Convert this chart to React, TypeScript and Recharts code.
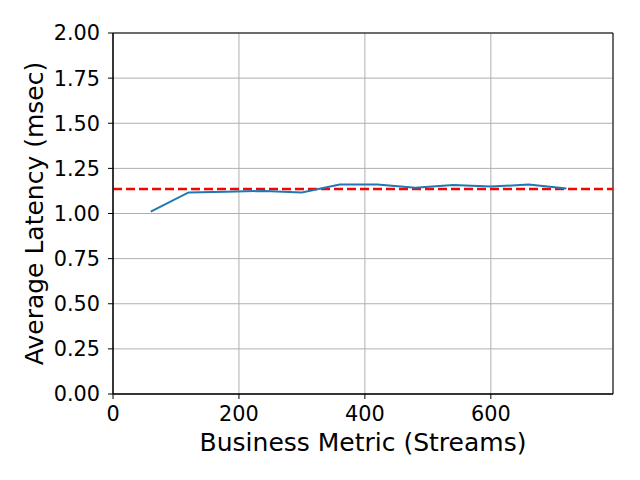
import React from 'react';
import {
  LineChart,
  Line,
  XAxis,
  YAxis,
  CartesianGrid,
  ReferenceLine,
  ReferenceArea,
} from 'recharts';

// Business metric (streams) sampled every 60
const streams = [60, 120, 180, 240, 300, 360, 420, 480, 540, 600, 660, 720];
// Average latency in msec at each sample
const latency = [1.01, 1.117, 1.121, 1.125, 1.117, 1.16, 1.16, 1.143, 1.158, 1.149, 1.16, 1.138];
// Dashed reference (overall average)
const avgLatency = 1.136;

const xTicks = [0, 200, 400, 600];
const yTicks = [0, 0.25, 0.5, 0.75, 1.0, 1.25, 1.5, 1.75, 2.0];
const xMax = 794;

const data = streams.map((s, i) => ({ streams: s, latency: latency[i] }));

const font = 'DejaVu Sans, sans-serif';

const App: React.FC = () => {
  return (
    <div style={{ position: 'absolute', left: 0, top: 0, width: 640, height: 480, background: '#fff', fontFamily: font }}>
      <LineChart width={640} height={480} data={data} margin={{ top: 33, right: 27, left: 0, bottom: 0 }}>
        <CartesianGrid stroke="#b0b0b0" strokeWidth={1} />
        <XAxis
          dataKey="streams"
          type="number"
          domain={[0, xMax]}
          ticks={xTicks}
          allowDataOverflow
          height={86}
          stroke="#000"
          tickSize={5}
          tickMargin={7}
          tick={{ fill: '#000', fontSize: 20.8, fontFamily: font }}
          label={{ value: 'Business Metric (Streams)', position: 'insideBottom', offset: 29, fill: '#000', fontSize: 25, fontFamily: font }}
        />
        <YAxis
          type="number"
          domain={[0, 2]}
          ticks={yTicks}
          tickFormatter={(v: number) => v.toFixed(2)}
          width={113}
          stroke="#000"
          tickSize={5}
          tickMargin={8}
          tick={{ fill: '#000', fontSize: 20.8, fontFamily: font }}
          label={{ value: 'Average Latency (msec)', angle: -90, position: 'insideLeft', offset: 34, fill: '#000', fontSize: 25, fontFamily: font, style: { textAnchor: 'middle' } }}
        />
        <ReferenceArea x1={0} x2={xMax} y1={0} y2={2} fill="none" stroke="#000" strokeWidth={1} />
        <ReferenceLine y={avgLatency} stroke="#ff0000" strokeWidth={2.5} strokeDasharray="9 4" />
        <Line
          type="linear"
          dataKey="latency"
          stroke="#1f77b4"
          strokeWidth={2}
          dot={false}
          isAnimationActive={false}
        />
      </LineChart>
    </div>
  );
};

export default App;
